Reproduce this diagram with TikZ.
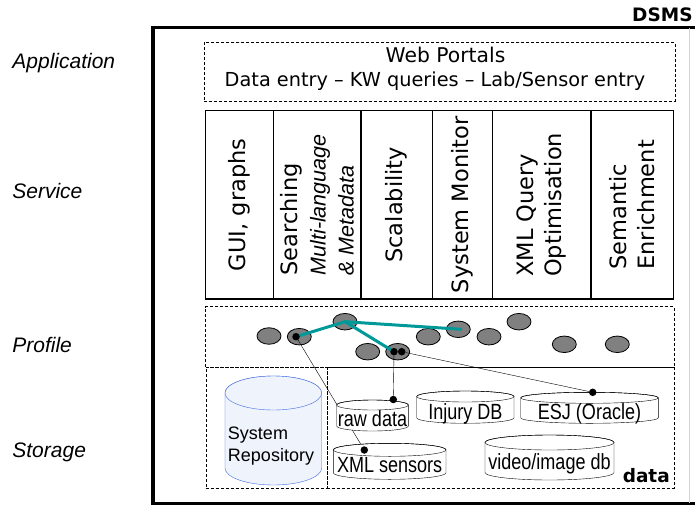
\documentclass[tikz,border=0pt]{standalone}
\usepackage{fontspec}
\setmainfont{DejaVu Sans}
\newfontfamily\arialfont{Liberation Sans}
\newfontfamily\narrowfont[FakeStretch=0.82]{Liberation Sans}
\usetikzlibrary{shapes.geometric,positioning}

\definecolor{linkteal}{RGB}{0,153,153}
\definecolor{profgray}{RGB}{128,128,128}
\definecolor{repoblue}{RGB}{65,105,225}
\definecolor{repofill}{RGB}{238,243,252}

\pgfdeclarelayer{front}
\pgfsetlayers{main,front}

\newcommand\portalfont{\fontsize{19.3}{24}\selectfont}
\newcommand\portalhead{\fontsize{20.3}{24}\selectfont}
\newcommand\svcfont{\fontsize{22.5}{28}\selectfont}
\newcommand\svcsub{\arialfont\itshape\fontsize{21.5}{26}\selectfont}
\newcommand\layerfont{\arialfont\itshape\fontsize{21}{25}\selectfont}
\newcommand\drumfont{\narrowfont\fontsize{22}{26}\selectfont}
\newcommand\repofont{\arialfont\fontsize{18}{22}\selectfont}
\newcommand\tagfont{\bfseries\fontsize{18.5}{22}\selectfont}

% storage drum: [style]{cx}{top}{width}{height}{cap}
\newcommand\drum[6][]{%
  \filldraw[fill=white,#1] (#2-#4/2,#3+#6) -- (#2-#4/2,#3+#5-#6)
    arc[start angle=180,end angle=0,x radius=#4/2,y radius=#6]
    -- (#2+#4/2,#3+#6)
    arc[start angle=0,end angle=-180,x radius=#4/2,y radius=#6] -- cycle;
  \draw[#1] (#2,#3+#6) ellipse[x radius=#4/2,y radius=#6];
}

\tikzset{
  dashbox/.style={rectangle, draw, dash pattern=on 3pt off 2pt, inner sep=0},
  svc/.style={rectangle, draw, line width=1.2pt, rotate=90, minimum width=188.3,
    inner sep=0, align=left, font=\svcfont},
  blob/.style={ellipse, draw, fill=profgray, minimum width=24, minimum height=16.5, inner sep=0},
  pin/.style={circle, fill=black, minimum size=7.5, inner sep=0},
  layer label/.style={anchor=base west, font=\layerfont, inner sep=0},
  drumtext/.style={anchor=base, font=\drumfont, inner sep=0},
  tealink/.style={draw=linkteal, line width=3pt},
}

\begin{document}
\begin{tikzpicture}[x=1pt, y=-1pt, line width=0.8pt]
\useasboundingbox (0,0) rectangle (695,506);

% Frame
\draw[line width=3.5pt] (695,27.5) -- (153,27.5) -- (153,503.3) -- (695,503.3);
\draw[gray!35, line width=0.6pt] (689.5,27.5) -- (689.5,503.3);
\node[anchor=base east, font=\tagfont, inner sep=0] (dsms) at (693,21.5) {DSMS};

% Layer names
\node[layer label] (lapp) at (12,68) {Application};
\node[layer label] (lsvc) at (12,198) {Service};
\node[layer label] (lprof) at (12,352) {Profile};
\node[layer label] (lstor) at (12,457) {Storage};

% Application
\node[dashbox, minimum width=471, minimum height=58.3] (portal) at (439.5,71.85) {};
\node[anchor=base, font=\portalhead, inner sep=0] (portaltitle) at (445.5,62.7) {Web Portals};
\node[anchor=base, font=\portalfont, inner sep=0] (portalentry) at (435,86) {Data entry -- KW queries -- Lab/Sensor entry};

% Services
\node[svc, minimum height=67.6] (gui) at (239.5,204.85) {GUI, graphs};
\node[svc, minimum height=87.7] (search) at (317.15,204.85) {Searching\\{\svcsub Multi-language}\\{\svcsub \& Metadata}};
\node[svc, minimum height=71.3] (scalab) at (396.65,204.85) {Scalability};
\node[svc, minimum height=60] (monitor) at (462.3,204.85) {System Monitor};
\node[svc, minimum height=98.7] (xmlopt) at (541.65,204.85) {XML Query\\Optimisation};
\node[svc, minimum height=82.3] (semantic) at (632.15,204.85) {Semantic\\Enrichment};

% Profiles
\node[dashbox, minimum width=468.6, minimum height=60.3] (profile) at (440,336.85) {};
\node[blob] (prof1) at (269,336) {};
\node[blob] (prof2) at (299.3,336.7) {};
\node[blob] (prof3) at (345,321.7) {};
\node[blob] (prof4) at (367.7,351.7) {};
\node[blob] (prof5) at (397.7,351.7) {};
\node[blob] (prof6) at (428.3,336.7) {};
\node[blob] (prof7) at (458.3,329.3) {};
\node[blob] (prof8) at (489,336.7) {};
\node[blob] (prof9) at (519,321.7) {};
\node[blob] (prof10) at (564.3,344.3) {};
\node[blob] (prof11) at (617.3,344.3) {};

\begin{pgfonlayer}{front}
\node[pin] (pin2) at (296,336.7) {};
\node[pin] (pin5a) at (394,351.7) {};
\node[pin] (pin5b) at (401.7,351.7) {};
\node[pin] (rawpin) at (393.3,399.5) {};
\node[pin] (xmlpin) at (364.3,450) {};
\node[pin] (esjpin) at (592.7,392.3) {};
\end{pgfonlayer}

\draw[tealink] (pin2.center) -- (prof3.center) -- (461.7,329.3);
\draw[tealink] (prof3.center) -- (pin5a.center);

% Storage
\node[dashbox, minimum width=121, minimum height=120.7] (sysstore) at (266.2,427.35) {};
\node[dashbox, minimum width=347.3, minimum height=120.7] (datastore) at (500.35,427.35) {};
\node[anchor=base east, font=\tagfont, inner sep=0] (datatag) at (670,482.7) {data};

\draw (pin2) -- (xmlpin);
\draw (pin5a) -- (rawpin);
\draw (pin5b) -- (esjpin);

\drum[draw=repoblue, fill=repofill]{273.35}{376}{96.7}{109}{17}
\node[font=\repofont, align=left, inner sep=0] (repo) at (271,446) {System\\Repository};

\drum{372.5}{400}{71.6}{31}{5}
\node[drumtext] (raw) at (372.5,426.7) {raw data};
\drum{465.35}{391}{97.3}{32.3}{5.5}
\node[drumtext] (injury) at (465.35,419.3) {Injury DB};
\drum{589.5}{392.3}{137.6}{31}{5.5}
\node[drumtext] (esj) at (589.5,419.3) {ESJ (Oracle)};
\drum{389.65}{443.3}{112.7}{36}{6.5}
\node[drumtext] (xmlsens) at (389.65,472.7) {XML sensors};
\drum{549.5}{435}{129}{45}{7.5}
\node[drumtext] (video) at (549.5,469.3) {video/image db};
\end{tikzpicture}
\end{document}
